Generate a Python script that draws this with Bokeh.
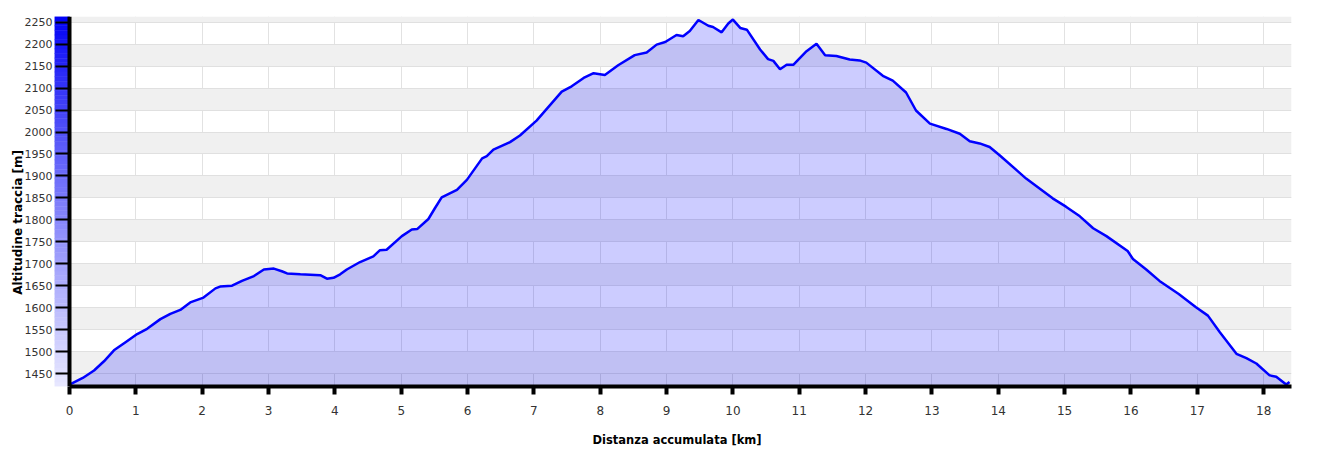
import numpy as np
from bokeh.plotting import figure
from bokeh.models import Range1d, FixedTicker, LinearAxis
from bokeh.embed import file_html
from bokeh.resources import INLINE

# ---- data ----
distance_km = [0.00, 0.20, 0.37, 0.52, 0.67, 0.85, 1.02, 1.17, 1.37, 1.52, 1.67, 1.82,
               2.02, 2.20, 2.27, 2.45, 2.60, 2.78, 2.93, 3.08, 3.20, 3.28, 3.48, 3.78,
               3.88, 3.98, 4.08, 4.18, 4.38, 4.58, 4.68, 4.78, 5.01, 5.16, 5.24, 5.41,
               5.51, 5.61, 5.84, 5.99, 6.22, 6.29, 6.39, 6.64, 6.79, 7.04, 7.42, 7.57,
               7.75, 7.90, 8.07, 8.27, 8.52, 8.70, 8.85, 8.98, 9.15, 9.25, 9.35, 9.48,
               9.63, 9.70, 9.83, 9.93, 10.00, 10.11, 10.21, 10.41, 10.53, 10.61, 10.71,
               10.81, 10.91, 11.11, 11.26, 11.39, 11.56, 11.76, 11.91, 12.01, 12.26,
               12.41, 12.61, 12.76, 12.97, 13.22, 13.42, 13.57, 13.72, 13.87, 14.02,
               14.42, 14.82, 15.02, 15.23, 15.43, 15.63, 15.95, 16.03, 16.23, 16.43,
               16.72, 16.98, 17.16, 17.34, 17.59, 17.74, 17.89, 18.09, 18.19, 18.34, 18.39]
altitude_m = [1425, 1440, 1457, 1478, 1503, 1522, 1540, 1552, 1574, 1586, 1595, 1612,
              1623, 1644, 1648, 1650, 1661, 1672, 1687, 1689, 1683, 1678, 1676, 1674,
              1666, 1668, 1676, 1687, 1704, 1717, 1731, 1732, 1763, 1778, 1779, 1802,
              1827, 1851, 1868, 1891, 1940, 1945, 1960, 1977, 1992, 2026, 2092, 2104,
              2123, 2134, 2130, 2152, 2175, 2181, 2199, 2205, 2221, 2218, 2230, 2255,
              2242, 2239, 2227, 2247, 2256, 2237, 2233, 2188, 2166, 2162, 2143,
              2153, 2153, 2184, 2201, 2175, 2173, 2165, 2163, 2158, 2128,
              2117, 2090, 2049, 2019, 2007, 1996, 1979, 1974, 1966, 1947,
              1894, 1849, 1830, 1808, 1781, 1763, 1729, 1711, 1687, 1661,
              1631, 1601, 1582, 1544, 1495, 1485, 1473, 1446, 1443, 1425, 1431]

x_ticks = list(range(0, 19))
y_ticks = list(range(1450, 2251, 50))
x_title = "Distanza accumulata [km]"
y_title = "Altitudine traccia [m]"

X_END = 18.42
X_START = -15.0 * X_END / 1222.0      # room for the gradient bar left of x = 0
Y_START, Y_END = 1420.6, 2263.0

FONT = "DejaVu Sans"

p = figure(width=1323, height=449, output_backend="svg", toolbar_location=None,
           x_range=Range1d(X_START, X_END), y_range=Range1d(Y_START, Y_END),
           min_border_left=54, min_border_right=32, min_border_top=16,
           min_border_bottom=61)
p.outline_line_color = None
p.background_fill_color = "white"
p.border_fill_color = "white"

# ticks / grids
p.xaxis.ticker = FixedTicker(ticks=x_ticks)
p.yaxis.ticker = FixedTicker(ticks=y_ticks)
p.xgrid.grid_line_color = "#e2e2e2"
p.xgrid.grid_line_width = 1
p.ygrid.grid_line_color = "#e0e0e0"
p.ygrid.grid_line_width = 1
p.ygrid.band_fill_color = "#f0f0f0"
p.ygrid.band_fill_alpha = 1.0

# band below the first tick
p.quad(left=[0], right=[X_END], bottom=[Y_START], top=[y_ticks[0]],
       fill_color="#000000", fill_alpha=0.059, line_color=None)

# profile
p.varea(x=distance_km, y1=Y_START, y2=altitude_m, fill_color="#0000ff", fill_alpha=0.2)
p.line(distance_km, altitude_m, line_color="#0000ff", line_width=2.5)

# gradient bar left of the y axis (decoration)
n = 80
edges = np.linspace(Y_END, Y_START, n + 1)
cols = []
for i in range(n):
    t = (i + 0.5) / n
    r = int(round(0 + (232 - 0) * t ** 0.9))
    b = int(round(245 + (255 - 245) * t))
    cols.append("#%02x%02x%02x" % (r, r, b))
p.quad(left=X_START, right=0, top=edges[:-1], bottom=edges[1:],
       fill_color=cols, line_color=cols, line_width=0.5)

# x axis
xa = p.xaxis[0]
xa.bounds = (0, X_END)
xa.axis_line_color = "black"
xa.axis_line_width = 4
xa.major_tick_line_color = "black"
xa.major_tick_line_width = 4
xa.major_tick_in = 0
xa.major_tick_out = 8
xa.minor_tick_line_color = None
xa.major_label_text_font = FONT
xa.major_label_text_font_size = "12px"
xa.major_label_text_color = "#333333"
xa.major_label_standoff = 11
xa.axis_label = "\u00a0\u00a0" + x_title
xa.axis_label_standoff = 15
xa.axis_label_text_font = FONT
xa.axis_label_text_font_style = "bold"
xa.axis_label_text_font_size = "11.5px"
xa.axis_label_text_color = "black"

# y axis: labels + title (in the side panel)
ya = p.yaxis[0]
ya.axis_line_color = None
ya.major_tick_line_color = None
ya.minor_tick_line_color = None
ya.major_tick_in = 0
ya.major_tick_out = 0
ya.major_label_text_font = FONT
ya.major_label_text_font_size = "11px"
ya.major_label_text_color = "#333333"
ya.major_label_standoff = 2
ya.axis_label = y_title + "\u00a0" * 10
ya.axis_label_standoff = -3
ya.axis_label_text_font = FONT
ya.axis_label_text_font_style = "bold"
ya.axis_label_text_font_size = "12px"
ya.axis_label_text_color = "black"

# y axis line and ticks at x = 0 (over the gradient bar)
yline = LinearAxis(ticker=FixedTicker(ticks=y_ticks), fixed_location=0,
                   axis_line_color="black", axis_line_width=4,
                   major_tick_line_color="black", major_tick_line_width=2,
                   major_tick_in=0, major_tick_out=14,
                   minor_tick_line_color=None,
                   major_label_text_font_size="0px", major_label_text_alpha=0)
p.add_layout(yline, "left")

open("out.html", "w").write(file_html(p, INLINE))
